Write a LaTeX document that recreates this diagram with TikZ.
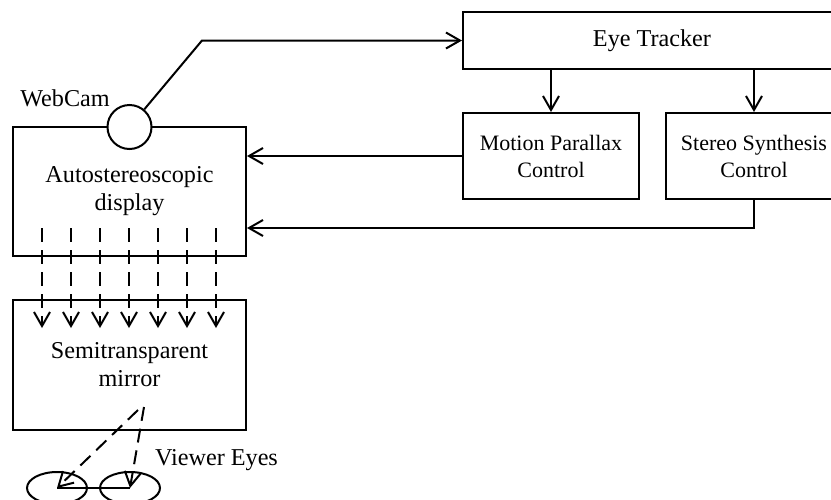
\documentclass[tikz,border=0pt]{standalone}
\usepackage{fontspec}
\setmainfont{Liberation Serif}
\usetikzlibrary{arrows.meta,shapes.geometric}

\tikzset{
  arr/.style={-{Straight Barb[length=7pt,width=8pt]}},
  beam/.style={arr, dash pattern=on 7pt off 4pt},
  block/.style={draw, align=center, inner sep=0pt,
    font=\fontsize{12.1}{14}\selectfont},
  ctrl/.style={block, minimum width=88pt, minimum height=43pt,
    font=\fontsize{11}{13.5}\selectfont},
  lbl/.style={inner sep=0pt, font=\fontsize{12.1}{14}\selectfont},
}

\begin{document}
\begin{tikzpicture}[x=0.5pt, y=-0.5pt, line width=1pt]
\useasboundingbox (0,0) rectangle (831,499);
\clip (0,0) rectangle (831,499);

% processing blocks
\node[block, minimum width=189pt, minimum height=28.5pt] (tracker) at (652,40.5) {Eye Tracker};
\node[ctrl] (motion) at (551,156) {Motion Parallax\\Control};
\node[ctrl] (stereo) at (754,156) {Stereo Synthesis\\Control};

% display and mirror
\node[block, minimum width=116.5pt, minimum height=64.5pt] (display) at (129.5,191.5) {Autostereoscopic\\display};
\node[block, minimum width=116.5pt, minimum height=65pt] (mirror) at (129.5,365) {Semitransparent\\mirror};

% webcam on top of the display
\node[draw, circle, fill=white, minimum size=22pt, inner sep=0pt] (cam) at (129.5,127) {};
\node[lbl] (camlabel) at (65,98) {WebCam};

% camera feed to the tracker
\coordinate (camturn) at (202,40.5);
\draw[arr] (cam) -- (camturn) -- (tracker.west);

% tracker outputs
\draw[arr] (tracker.south -| motion.north) -- (motion.north);
\draw[arr] (tracker.south -| stereo.north) -- (stereo.north);

% control signals back to the display
\draw[arr] (motion.west) -- (motion.west -| display.east);
\coordinate (stturn) at ([yshift=-14pt]stereo.south);
\draw[arr] (stereo.south) -- (stturn) -- (stturn -| display.east);

% light beams from the display onto the mirror
\foreach \i in {0,...,6} {
  \coordinate (bs\i) at (42+29*\i,228);
  \coordinate (be\i) at (42+29*\i,328);
  \draw[beam] (bs\i) -- (be\i);
}

% viewer eyes
\node[draw, ellipse, minimum width=30pt, minimum height=16pt, inner sep=0pt] (eyeL) at (57,488) {};
\node[draw, ellipse, minimum width=30pt, minimum height=16pt, inner sep=0pt] (eyeR) at (130,488) {};
\draw (eyeL.center) -- (eyeR.center);
\node[lbl] (eyelabel) at (216.5,460) {Viewer Eyes};

% reflected light towards the eyes
\coordinate (rl) at (138,410);
\coordinate (rr) at (144,407);
\draw[beam] (rl) -- (eyeL.center);
\draw[beam] (rr) -- (eyeR.center);
\end{tikzpicture}
\end{document}
